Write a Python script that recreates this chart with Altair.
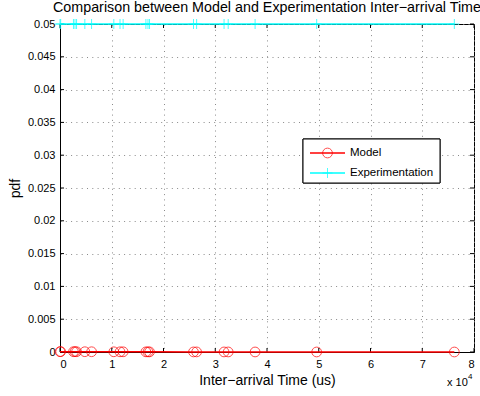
import altair as alt
import pandas as pd

# Inter-arrival times (us) of the observed samples
arrival_us = [0, 130, 2600, 2900, 3200, 4800, 6100, 10400, 11600, 12200,
              16600, 17000, 17300, 25800, 26400, 31700, 32500, 37700, 49600, 76200]
# Model pdf evaluated at each inter-arrival time
model_pdf = [5.5e-5, 5.4e-5, 4.8e-5, 4.7e-5, 4.6e-5, 4.3e-5, 4.0e-5, 3.2e-5, 3.0e-5, 2.9e-5,
             2.2e-5, 2.1e-5, 2.1e-5, 1.3e-5, 1.3e-5, 1.0e-5, 9.0e-6, 7.0e-6, 4.0e-6, 8.0e-7]
# Empirical pdf of the measured samples
exp_pdf = [0.05, 0.05, 0.05, 0.05, 0.05, 0.05, 0.05, 0.05, 0.05, 0.05,
           0.05, 0.05, 0.05, 0.05, 0.05, 0.05, 0.05, 0.05, 0.05, 0.05]

series_names = ["Model", "Experimentation"]
x_ticks = [0, 10000, 20000, 30000, 40000, 50000, 60000, 70000, 80000]
y_ticks = [0, 0.005, 0.01, 0.015, 0.02, 0.025, 0.03, 0.035, 0.04, 0.045, 0.05]

W, H = 414, 328
FONT = "Liberation Sans"
RED = "#ff0000"
CYAN = "#00ffff"
PLUS = "M0,-1V1M-1,0H1"

df = pd.DataFrame({"t": arrival_us, "model": model_pdf, "exp": exp_pdf})
xs = alt.Scale(domain=[0, 80000], nice=False, zero=False)
ys = alt.Scale(domain=[0, 0.05], nice=False, zero=False)

grid_style = dict(grid=True, gridDash=[1, 4.3], gridColor="#8a8a8a", ticks=False,
                  labelOverlap=False, domainColor="black", labelFontSize=11,
                  titleFontSize=14, titleFontWeight="normal")
x_axis = alt.Axis(values=x_ticks, labelExpr="datum.value / 10000",
                  title="Inter\u2212arrival Time (us)",
                  titleX=W / 2, titleY=28, titleBaseline="middle",
                  labelPadding=6, **grid_style)
y_axis = alt.Axis(values=y_ticks, labelExpr="format(datum.value, '.3~f')", title="pdf",
                  titleX=-45, titleY=H / 2, titleBaseline="middle",
                  labelPadding=5, **grid_style)


# every layer shares the same scales and axis definitions
def X(field):
    return alt.X(field, scale=xs, axis=x_axis)


def Y(field):
    return alt.Y(field, scale=ys, axis=y_axis)


base = alt.Chart(df)

model_line = base.mark_line(color=RED, strokeWidth=1.5, clip=False).encode(
    x=X("t:Q"), y=Y("model:Q"))
model_pts = base.mark_point(shape="circle", size=95, color=RED, filled=False,
                            strokeWidth=1, clip=False).encode(
    x=X("t:Q"), y=Y("model:Q"))

exp_line = base.mark_line(color=CYAN, strokeWidth=1.5, clip=False).encode(
    x=X("t:Q"), y=Y("exp:Q"))
exp_pts = base.mark_point(shape=PLUS, size=100, color=CYAN, filled=False,
                          strokeWidth=1, clip=False).encode(
    x=X("t:Q"), y=Y("exp:Q"))

# inward tick marks on all four sides
xt = alt.Chart(pd.DataFrame({"v": x_ticks}))
yt = alt.Chart(pd.DataFrame({"v": y_ticks}))
tick_style = dict(color="black", strokeWidth=1)
ticks = [
    xt.mark_rule(**tick_style).encode(x=X("v:Q"), y=alt.value(H), y2=alt.value(H - 4)),
    xt.mark_rule(**tick_style).encode(x=X("v:Q"), y=alt.value(0), y2=alt.value(4)),
    yt.mark_rule(**tick_style).encode(y=Y("v:Q"), x=alt.value(0), x2=alt.value(4)),
    yt.mark_rule(**tick_style).encode(y=Y("v:Q"), x=alt.value(W), x2=alt.value(W - 4)),
]

# exponent note under the x axis
exp_note = alt.Chart(pd.DataFrame({"s": ["x 10"]})).mark_text(
    font=FONT, fontSize=11, align="left", baseline="alphabetic").encode(
    text="s:N", x=alt.value(387), y=alt.value(362))
exp_sup = alt.Chart(pd.DataFrame({"s": ["4"]})).mark_text(
    font=FONT, fontSize=8, align="left", baseline="alphabetic").encode(
    text="s:N", x=alt.value(408), y=alt.value(355))

# legend box
leg_df = pd.DataFrame({"series": series_names})
legend_box = alt.Chart(leg_df).mark_rect(fill="white", stroke="black", strokeWidth=1).encode(
    x=alt.value(243), x2=alt.value(380), y=alt.value(115), y2=alt.value(159))


def legend_row(name, ypix, color, shape, size):
    src = alt.Chart(leg_df).transform_filter(alt.datum.series == name)
    line = src.mark_rule(color=color, strokeWidth=1.5).encode(
        x=alt.value(250), x2=alt.value(285), y=alt.value(ypix))
    pt = src.mark_point(shape=shape, size=size, color=color, filled=False, strokeWidth=1).encode(
        x=alt.value(267.5), y=alt.value(ypix))
    txt = src.mark_text(font=FONT, fontSize=11.5, align="left", baseline="middle").encode(
        text="series:N", x=alt.value(290), y=alt.value(ypix))
    return [line, pt, txt]


legend_layers = [legend_box] + legend_row("Model", 129, RED, "circle", 95) \
    + legend_row("Experimentation", 149, CYAN, PLUS, 100)

chart = alt.layer(
    *ticks, model_line, exp_line, model_pts, exp_pts, exp_note, exp_sup, *legend_layers
).properties(
    width=W, height=H,
    title=alt.TitleParams("Comparison between Model and Experimentation Inter\u2212arrival Time",
                          font=FONT, fontSize=14.3, fontWeight="normal", anchor="middle",
                          frame="group", offset=2),
    autosize=alt.AutoSizeParams(type="none"),
    padding={"left": 60, "top": 24, "right": 6, "bottom": 44},
).configure(
    font=FONT, background="white"
).configure_view(
    stroke="black", strokeWidth=1
).configure_axis(
    labelFont=FONT, titleFont=FONT, labelColor="black", titleColor="black"
)

chart.save("out.html", embed_options={"renderer": "svg", "actions": False})
